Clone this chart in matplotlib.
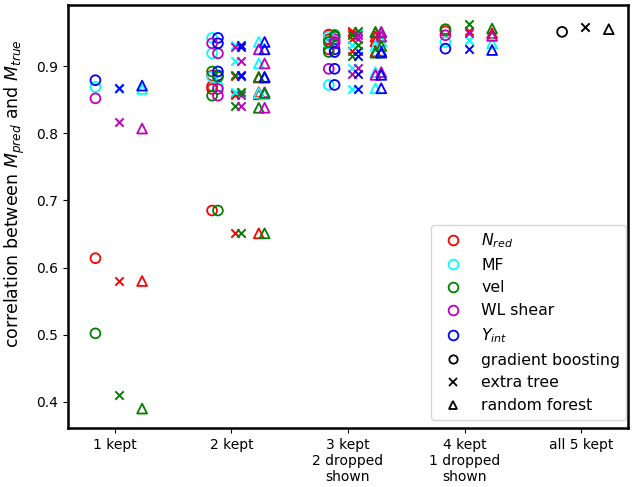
import matplotlib
matplotlib.use("Agg")
import matplotlib.pyplot as plt
from matplotlib.lines import Line2D

# features: N_red, MF, vel, WL shear, Y_int
feature_labels = [r"$N_{red}$", "MF", "vel", "WL shear", r"$Y_{int}$"]
feature_colors = ["red", "cyan", "green", "m", "blue"]
model_labels = ["gradient boosting", "extra tree", "random forest"]
model_markers = ["o", "x", "^"]
group_labels = ["1 kept", "2 kept", "3 kept\n2 dropped\nshown", "4 kept\n1 dropped\nshown", "all 5 kept"]

singles = [(0,), (1,), (2,), (3,), (4,)]
pairs = [(0, 1), (0, 2), (0, 3), (0, 4), (1, 2), (1, 3), (1, 4), (2, 3), (2, 4), (3, 4)]

# 1 kept (shown: kept feature)
kept1_gb = [0.614, 0.869, 0.502, 0.852, 0.879]
kept1_et = [0.580, 0.866, 0.410, 0.817, 0.867]
kept1_rf = [0.580, 0.866, 0.390, 0.807, 0.871]
# 2 kept (shown: the two kept features)
kept2_gb = [0.870, 0.685, 0.866, 0.886, 0.884, 0.919, 0.942, 0.856, 0.892, 0.934]
kept2_et = [0.860, 0.651, 0.857, 0.886, 0.862, 0.908, 0.931, 0.840, 0.887, 0.928]
kept2_rf = [0.858, 0.651, 0.861, 0.883, 0.860, 0.904, 0.936, 0.838, 0.884, 0.925]
# 3 kept (shown: the two dropped features)
kept3_gb = [0.947, 0.946, 0.940, 0.925, 0.944, 0.934, 0.872, 0.936, 0.921, 0.896]
kept3_et = [0.950, 0.953, 0.940, 0.922, 0.931, 0.897, 0.866, 0.946, 0.915, 0.888]
kept3_rf = [0.937, 0.950, 0.944, 0.922, 0.930, 0.891, 0.867, 0.951, 0.920, 0.887]
# 4 kept (shown: the dropped feature)
kept4_gb = [0.952, 0.936, 0.955, 0.946, 0.926]
kept4_et = [0.953, 0.939, 0.963, 0.950, 0.926]
kept4_rf = [0.949, 0.934, 0.956, 0.945, 0.924]
# all 5 kept
all5 = [0.951, 0.958, 0.955]

groups = [
    (singles, [kept1_gb, kept1_et, kept1_rf]),
    (pairs, [kept2_gb, kept2_et, kept2_rf]),
    (pairs, [kept3_gb, kept3_et, kept3_rf]),
    (singles, [kept4_gb, kept4_et, kept4_rf]),
]

model_offsets = [-0.165, 0.035, 0.235]
pair_shift = 0.05


def draw(ax, x, v, marker, color):
    if marker == "x":
        ax.scatter([x], [v], marker="x", color=color, s=36, linewidths=1.4)
    else:
        ax.scatter([x], [v], marker=marker, facecolors="none",
                   edgecolors=color, s=50, linewidths=1.3)


fig = plt.figure(figsize=(6.32, 4.87), dpi=100)
ax = fig.add_axes([0.1076, 0.121, 0.8861, 0.8687])

for gi, (combos, model_vals) in enumerate(groups):
    xc = gi + 1
    for mi, vals in enumerate(model_vals):
        for combo, v in zip(combos, vals):
            for k, f in enumerate(combo):
                draw(ax, xc + model_offsets[mi] + k * pair_shift, v,
                     model_markers[mi], feature_colors[f])

for mi, v in enumerate(all5):
    draw(ax, 5 + model_offsets[mi], v, model_markers[mi], "black")

ax.set_xlim(0.6, 5.4)
ax.set_ylim(0.361, 0.991)
ax.set_xticks([1, 2, 3, 4, 5])
ax.set_xticklabels(group_labels, fontsize=10)
ax.set_yticks([0.4, 0.5, 0.6, 0.7, 0.8, 0.9])
ax.set_yticklabels(["0.4", "0.5", "0.6", "0.7", "0.8", "0.9"], fontsize=10)
ax.set_ylabel(r"correlation between $M_{pred}$ and $M_{true}$", fontsize=12.5)
ax.yaxis.set_label_coords(-0.073, 0.555)
for sp in ax.spines.values():
    sp.set_linewidth(1.8)

handles = []
for lab, c in zip(feature_labels, feature_colors):
    handles.append(Line2D([], [], linestyle="none", marker="o", markerfacecolor="none",
                          markeredgecolor=c, markersize=7, markeredgewidth=1.3, label=lab))
for lab, m in zip(model_labels, model_markers):
    if m == "x":
        handles.append(Line2D([], [], linestyle="none", marker=m, color="black",
                              markersize=6, markeredgewidth=1.3, label=lab))
    else:
        handles.append(Line2D([], [], linestyle="none", marker=m, markerfacecolor="none",
                              markeredgecolor="black", markersize=6, markeredgewidth=1.3, label=lab))
ax.legend(handles=handles, loc="lower right", fontsize=11.3, labelspacing=0.5,
          borderaxespad=0, bbox_to_anchor=(0.997, 0.02))

fig.savefig("out.png", dpi=100)
